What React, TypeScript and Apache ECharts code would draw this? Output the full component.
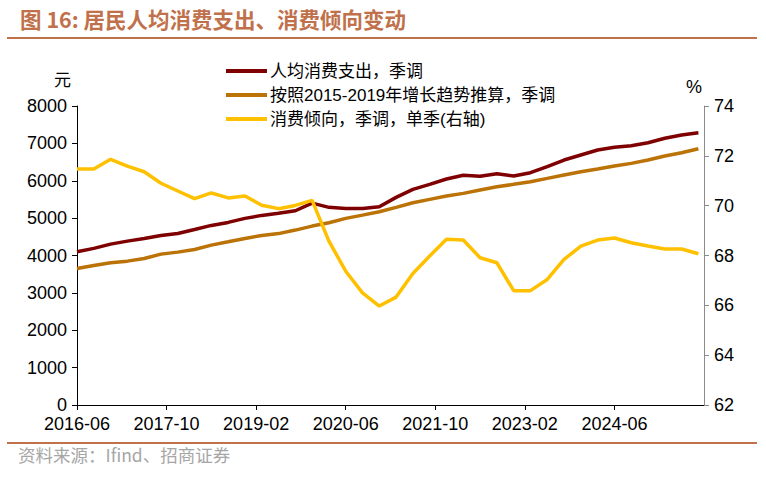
import React, { useEffect, useRef } from "react";
import * as echarts from "echarts";

const quarters = [
  "2016-06", "2016-09", "2016-12",
  "2017-03", "2017-06", "2017-09", "2017-12",
  "2018-03", "2018-06", "2018-09", "2018-12",
  "2019-03", "2019-06", "2019-09", "2019-12",
  "2020-03", "2020-06", "2020-09", "2020-12",
  "2021-03", "2021-06", "2021-09", "2021-12",
  "2022-03", "2022-06", "2022-09", "2022-12",
  "2023-03", "2023-06", "2023-09", "2023-12",
  "2024-03", "2024-06", "2024-09", "2024-12",
  "2025-03", "2025-06", "2025-09",
];

const spending = [
  4100, 4190, 4305, 4385, 4457, 4537, 4590, 4697, 4805, 4885,
  4993, 5073, 5130, 5197, 5400, 5288, 5260, 5260, 5305, 5555,
  5770, 5904, 6046, 6145, 6118, 6190, 6126, 6215, 6376, 6555,
  6689, 6823, 6895, 6938, 7018, 7136, 7225, 7286,
];

const trend = [
  3654, 3734, 3804, 3849, 3920, 4037, 4090, 4162, 4278, 4367,
  4457, 4537, 4586, 4680, 4787, 4875, 4993, 5081, 5170, 5288,
  5411, 5502, 5590, 5662, 5751, 5840, 5904, 5974, 6064, 6153,
  6242, 6314, 6394, 6465, 6555, 6662, 6750, 6858,
];

const propensity = [
  71.47, 71.47, 71.86, 71.59, 71.36, 70.9, 70.59, 70.28, 70.51, 70.31,
  70.39, 70.02, 69.88, 70.01, 70.21, 68.58, 67.37, 66.5, 65.97, 66.33,
  67.28, 67.98, 68.65, 68.62, 67.91, 67.71, 66.59, 66.59, 67.04, 67.84,
  68.38, 68.62, 68.7, 68.51, 68.38, 68.26, 68.26, 68.07,
];

const seriesNames = [
  "人均消费支出，季调",
  "按照2015-2019年增长趋势推算，季调",
  "消费倾向，季调，单季(右轴)",
];

const leftTicks = { min: 0, max: 8000, interval: 1000 };
const rightTicks = { min: 62, max: 74, interval: 2 };

const START_Y = 2016;
const START_M = 6;
const X_STEP = 16;
const X_MAX = 112;

function toMonthIndex(s: string): number {
  const [y, m] = s.split("-").map(Number);
  return (y - START_Y) * 12 + (m - START_M);
}

function fromMonthIndex(v: number): string {
  const total = START_Y * 12 + (START_M - 1) + v;
  const y = Math.floor(total / 12);
  const m = (total % 12) + 1;
  return `${y}-${m < 10 ? "0" + m : m}`;
}

const FONT = '"Liberation Sans", "Noto Sans CJK SC", sans-serif';
const TITLE_COLOR = "#C0714B";

export default function App() {
  const ref = useRef<HTMLDivElement>(null);

  useEffect(() => {
    if (!ref.current) return;
    const chart = echarts.init(ref.current, undefined, { renderer: "svg" });
    const xs = quarters.map(toMonthIndex);
    const pair = (arr: number[]) => arr.map((v, i) => [xs[i], v]);

    chart.setOption({
      animation: false,
      backgroundColor: "#ffffff",
      textStyle: { fontFamily: FONT },
      grid: { left: 77, right: 62, top: 106, bottom: 74 },
      legend: {
        orient: "vertical",
        left: 221,
        top: 57,
        itemWidth: 41,
        itemHeight: 4,
        itemGap: 6,
        icon: "rect",
        textStyle: { fontSize: 17, color: "#000", fontFamily: FONT, lineHeight: 18, padding: [0, 0, 0, -2] },
        data: seriesNames,
      },
      xAxis: {
        type: "value",
        min: 0,
        max: X_MAX,
        interval: X_STEP,
        axisLine: { lineStyle: { color: "#000", width: 1 } },
        axisTick: { show: true, length: 5, lineStyle: { color: "#000" } },
        splitLine: { show: false },
        axisLabel: {
          color: "#000",
          fontSize: 18,
          fontFamily: FONT,
          margin: 10,
          showMaxLabel: false,
          formatter: (v: number) =>
            v % X_STEP === 0 && v < X_MAX ? fromMonthIndex(v) : "",
        },
      },
      yAxis: [
        {
          type: "value",
          ...leftTicks,
          axisLine: { show: true, lineStyle: { color: "#000" } },
          axisTick: { show: true, length: 5, lineStyle: { color: "#000" } },
          splitLine: { show: false },
          axisLabel: {
            color: "#000",
            fontSize: 18,
            fontFamily: FONT,
            margin: 10,
            formatter: (v: number) => String(v),
          },
        },
        {
          type: "value",
          ...rightTicks,
          position: "right",
          axisLine: { show: true, lineStyle: { color: "#8c8c8c" } },
          axisTick: { show: true, length: 5, lineStyle: { color: "#8c8c8c" } },
          splitLine: { show: false },
          axisLabel: {
            color: "#000",
            fontSize: 18,
            fontFamily: FONT,
            margin: 10,
            formatter: (v: number) => String(v),
          },
        },
      ],
      graphic: [
        {
          type: "text",
          left: 20,
          top: 8,
          style: {
            text: "图 16: 居民人均消费支出、消费倾向变动",
            fill: TITLE_COLOR,
            font: `bold 21.5px "Noto Sans CJK SC", "Liberation Sans", sans-serif`,
          },
        },
        {
          type: "rect",
          shape: { x: 7, y: 37, width: 750, height: 2 },
          style: { fill: TITLE_COLOR },
        },
        {
          type: "text",
          left: 54,
          top: 70,
          style: { text: "元", fill: "#000", font: `17px "Noto Sans CJK SC", sans-serif` },
        },
        {
          type: "text",
          left: 686,
          top: 78,
          style: { text: "%", fill: "#000", font: `18px ${FONT}` },
        },
        {
          type: "rect",
          shape: { x: 7, y: 442, width: 750, height: 2 },
          style: { fill: TITLE_COLOR },
        },
        {
          type: "text",
          left: 18,
          top: 446,
          style: {
            text: "资料来源：Ifind、招商证券",
            fill: "#a6a6a6",
            font: `17.5px "Noto Sans CJK SC", "Liberation Sans", sans-serif`,
          },
        },
      ],
      series: [
        {
          name: seriesNames[0],
          type: "line",
          data: pair(spending),
          showSymbol: false,
          symbol: "none",
          lineStyle: { color: "#7F0000", width: 3.5 },
          itemStyle: { color: "#7F0000" },
        },
        {
          name: seriesNames[1],
          type: "line",
          data: pair(trend),
          showSymbol: false,
          symbol: "none",
          lineStyle: { color: "#BB7206", width: 3.5 },
          itemStyle: { color: "#BB7206" },
        },
        {
          name: seriesNames[2],
          type: "line",
          yAxisIndex: 1,
          data: pair(propensity),
          showSymbol: false,
          symbol: "none",
          lineStyle: { color: "#FFC000", width: 3.5 },
          itemStyle: { color: "#FFC000" },
        },
      ],
    });

    return () => chart.dispose();
  }, []);

  return (
    <div
      ref={ref}
      style={{ position: "fixed", left: 0, top: 0, width: 766, height: 479, background: "#fff" }}
    />
  );
}
